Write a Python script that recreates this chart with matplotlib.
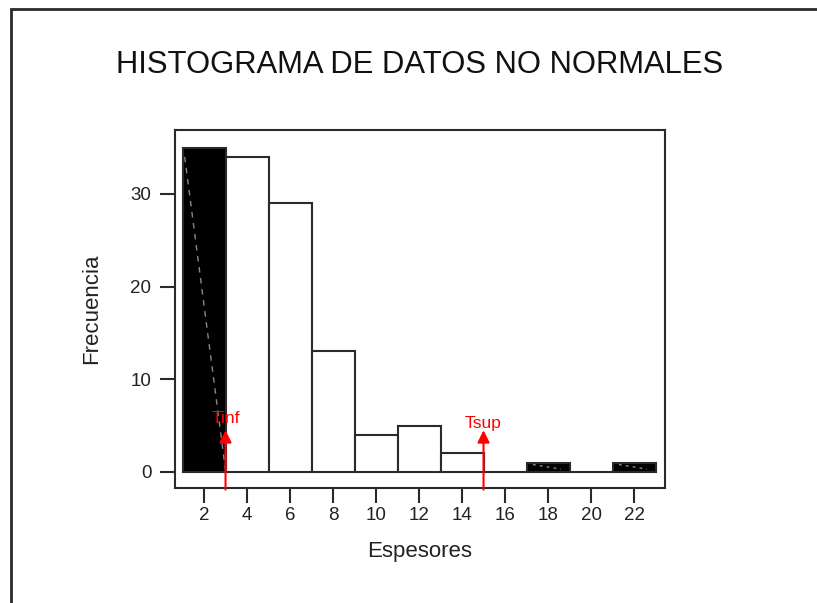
import numpy as np
import matplotlib
matplotlib.use("Agg")
import matplotlib.pyplot as plt
from matplotlib.patches import Rectangle

plt.rcParams['font.family'] = ['Liberation Sans', 'DejaVu Sans']

# histogram of thickness data (class edges every 2 units)
bin_left = [1, 3, 5, 7, 9, 11, 13, 15, 17, 19, 21]
counts = [35, 34, 29, 13, 4, 5, 2, 0, 1, 0, 1]
# classes outside the tolerance limits are shaded
outside = [True, False, False, False, False, False, False, False, True, False, True]
t_inf = 3
t_sup = 15
xticks = [2, 4, 6, 8, 10, 12, 14, 16, 18, 20, 22]
yticks = [0, 10, 20, 30]

line_col = '#2a2a2a'

fig = plt.figure(figsize=(8.17, 6.03), dpi=100)
fig.patches.append(Rectangle((11 / 817, -0.05), 1.1, 1 - 9 / 603 + 0.05,
                             transform=fig.transFigure, fill=False,
                             edgecolor=line_col, linewidth=2.0))

ax = fig.add_axes([175 / 817, 1 - 488 / 603, 490 / 817, 358 / 603])
ax.set_xlim(0.65, 23.44)
ax.set_ylim(-1.73, 36.9)

for x0, c, o in zip(bin_left, counts, outside):
    ax.bar(x0, c, width=2, align='edge',
           facecolor='black' if o else 'white',
           edgecolor=line_col, linewidth=1.5, zorder=2)

# dashed trace running through the shaded classes
ax.plot([1.1, 3.0], [34.0, 0.2], color='#888888', lw=1, ls=(0, (4, 4)), zorder=3)
ax.plot([17.3, 18.6], [0.8, 0.3], color='#888888', lw=1, ls=(0, (2, 3)), zorder=3)
ax.plot([21.3, 22.6], [0.8, 0.3], color='#888888', lw=1, ls=(0, (2, 3)), zorder=3)

# tolerance limits
for t, lab, ly in [(t_inf, 'Tinf', 5.8), (t_sup, 'Tsup', 5.2)]:
    ax.annotate('', xy=(t, 4.5), xytext=(t, -1.9),
                arrowprops=dict(arrowstyle='-|>', color='red', lw=1.5,
                                mutation_scale=18, shrinkA=0, shrinkB=0),
                annotation_clip=False, zorder=4)
    ax.text(t, ly, lab, color='red', fontsize=12.5, ha='center', va='center', zorder=5)

ax.set_xticks(xticks)
ax.set_yticks(yticks)
ax.tick_params(length=11, width=1.5, color=line_col, labelsize=13.5,
               labelcolor='#222222', pad=3)
ax.tick_params(axis='y', pad=6)
for s in ax.spines.values():
    s.set_color(line_col)
    s.set_linewidth(1.5)

ax.set_xlabel('Espesores', fontsize=16, color='#222222', labelpad=12)
ax.set_ylabel('Frecuencia', fontsize=16, color='#222222', labelpad=20)
fig.text(420 / 817, 1 - 65 / 603, 'HISTOGRAMA DE DATOS NO NORMALES',
         fontsize=22.3, ha='center', va='center', color='#111111')

fig.savefig('out.png', dpi=100)
